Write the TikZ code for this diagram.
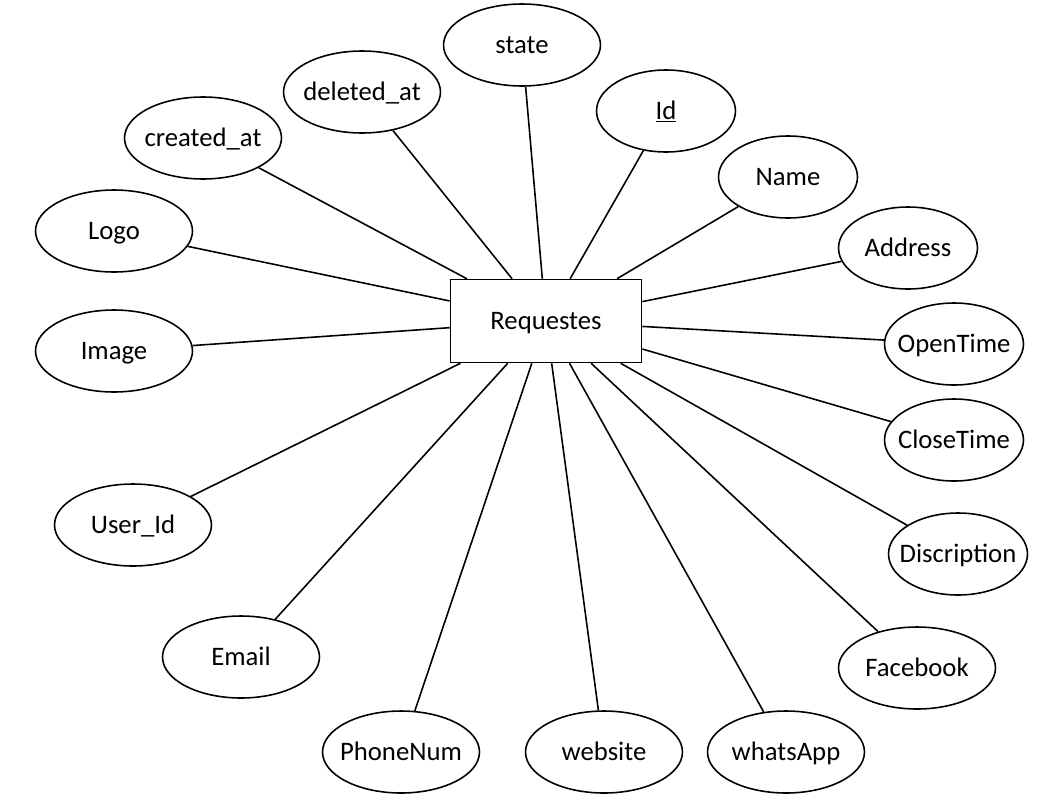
\documentclass[tikz,border=0pt]{standalone}
\usepackage{fontspec}
\setmainfont{Carlito}
\usetikzlibrary{shapes.geometric}

\tikzset{
  entity/.style={draw, line width=0.9pt, rectangle, minimum width=3.82cm, minimum height=1.66cm, inner sep=0pt, text height=12pt, text depth=2.8pt},
  attr/.style={draw, line width=0.9pt, ellipse, minimum width=3.14cm, minimum height=1.64cm, inner xsep=-1.5cm, inner ysep=0pt, text height=12pt, text depth=2.8pt},
  sattr/.style={attr, minimum width=2.78cm},
  link/.style={line width=0.9pt}
}

\begin{document}
\begin{tikzpicture}[x=0.02cm, y=-0.02cm, font=\fontsize{15.2}{18}\selectfont]
\useasboundingbox (0,0) rectangle (1047,801);
% Define nodes
% Entity
\node[entity] (req) at (546,321) {Requestes};

% Attributes
\node[attr] (state) at (522,45) {state};
\node[attr] (deleted) at (362,92) {deleted\_at};
\node[sattr] (id) at (666,111) {\underline{Id}};
\node[attr] (created) at (203,138) {created\_at};
\node[sattr] (name) at (788,177) {Name};
\node[attr] (logo) at (114,231) {Logo};
\node[sattr] (address) at (908,248) {Address};
\node[attr] (image) at (114,351) {Image};
\node[sattr] (open) at (954,344) {OpenTime};
\node[sattr] (close) at (954,440) {CloseTime};
\node[attr] (user) at (133,525) {User\_Id};
\node[sattr] (disc) at (958,554) {Discription};
\node[attr] (email) at (241,657) {Email};
\node[attr] (facebook) at (917,668) {Facebook};
\node[attr] (phone) at (401,752) {PhoneNum};
\node[attr] (website) at (604,752) {website};
\node[attr] (whats) at (786,752) {whatsApp};

% Edges
\foreach \a in {state,deleted,id,created,name,logo,address,image,open,close,user,disc,email,facebook,phone,website,whats}
  \draw[link] (req) -- (\a);
\end{tikzpicture}
\end{document}
